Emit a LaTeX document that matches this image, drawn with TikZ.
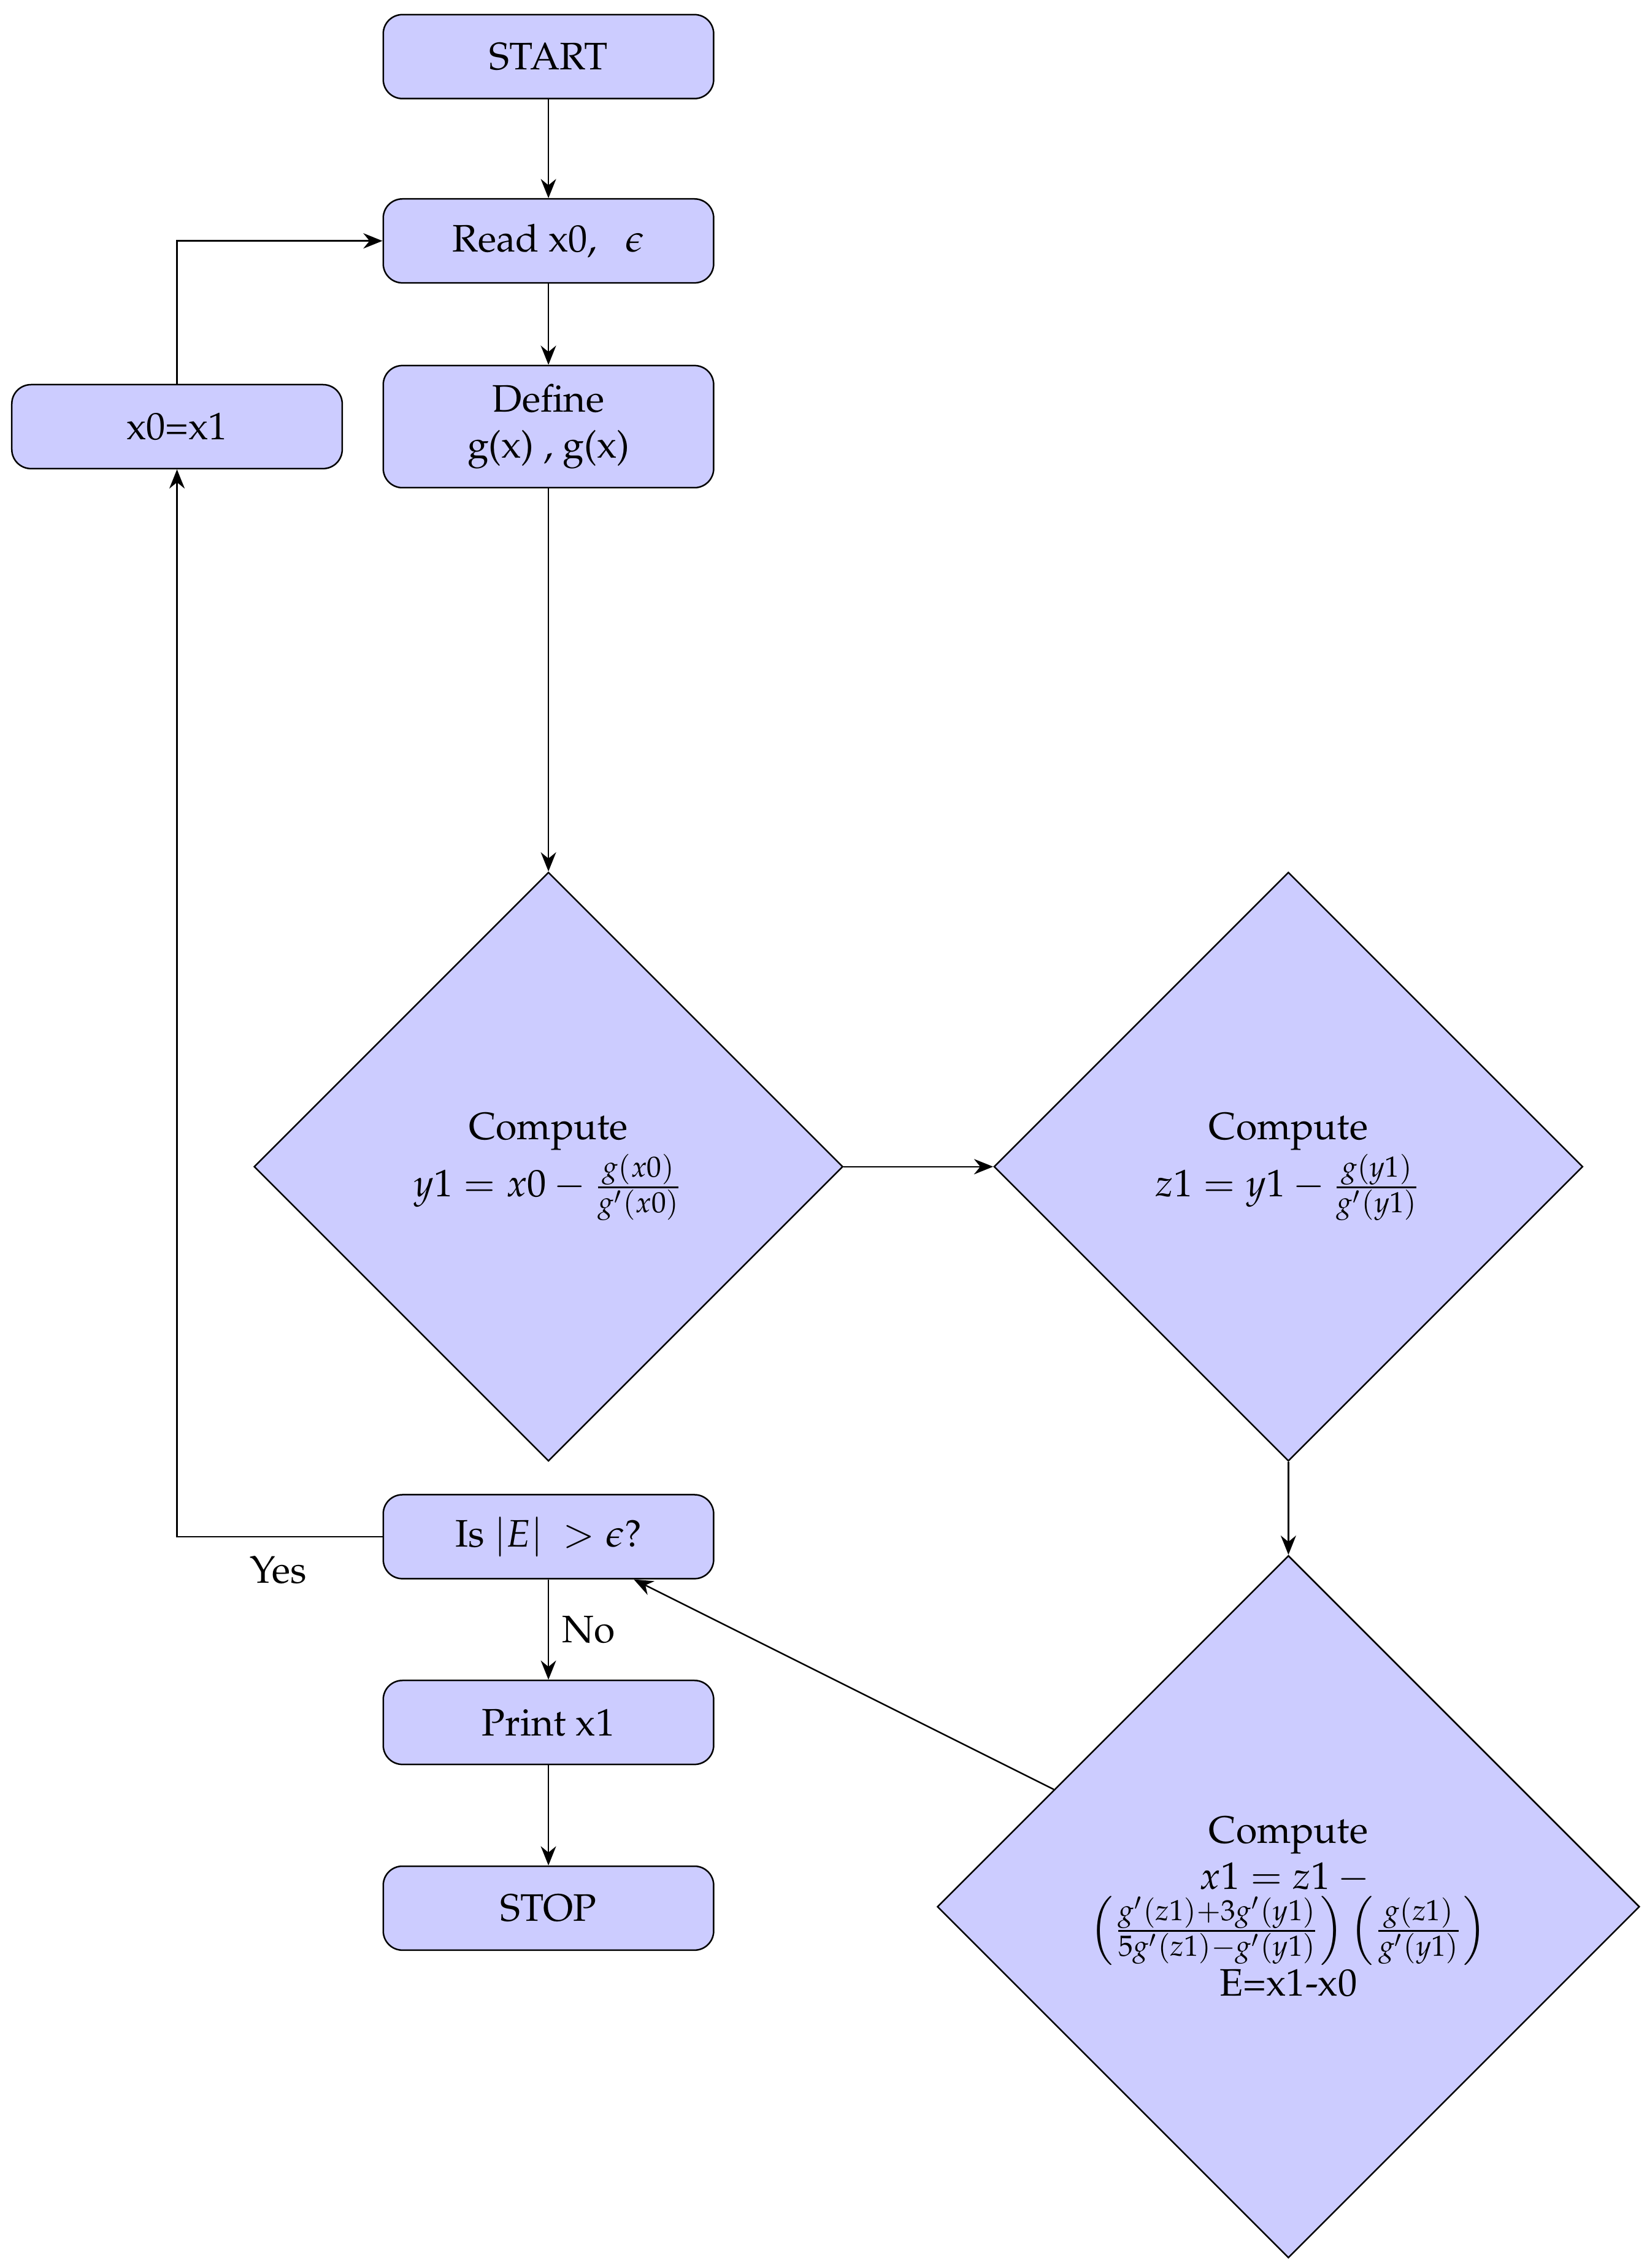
\documentclass[tikz,border=0pt]{standalone}
\usepackage[T1]{fontenc}
\usepackage{mathpazo}
\usetikzlibrary{shapes.geometric,arrows.meta}
\begin{document}
\begin{tikzpicture}[x=0.0133cm,y=-0.0133cm,
  box/.style={draw,fill=blue!20,rounded corners=5pt,minimum width=3.03cm,minimum height=0.77cm,align=center,inner sep=2pt},
  dia/.style={draw,fill=blue!20,diamond,align=center,inner sep=0pt},
  arr/.style={-{Stealth[length=5pt,width=4pt]},thin}]
\useasboundingbox (0,0) rectangle (1135,1563);
\node[box] (start) at (378,39) {START};
\node[box] (read) at (378,166) {Read x0,~~~$\epsilon$};
\node[box,minimum height=1.12cm] (def) at (378,294) {Define\\ g(x) , g’(x)};
\node[box] (upd) at (122,294) {x0=x1};
\node[dia,minimum width=5.40cm,minimum height=5.40cm] (d1) at (378,804) {Compute\\ $y1 = x0 - \frac{g(x0)}{g'(x0)}$};
\node[dia,minimum width=5.40cm,minimum height=5.40cm] (d2) at (888,804) {Compute\\ $z1 = y1 - \frac{g(y1)}{g'(y1)}$};
\node[dia,minimum width=6.44cm,minimum height=6.44cm] (d3) at (888,1314) {Compute\\ $x1 = z1 -{}$\\ $\left(\frac{g'(z1)+3g'(y1)}{5g'(z1)-g'(y1)}\right)\left(\frac{g(z1)}{g'(y1)}\right)$\\ E=x1-x0};
\node[box] (is) at (378,1059) {Is $|E|\ >\epsilon$?};
\node[box] (print) at (378,1187) {Print x1};
\node[box] (stop) at (378,1315) {STOP};
\node (yes) at (192,1082) {Yes};
\coordinate (c1) at (122,1059);
\coordinate (c2) at (122,166);
\draw[arr] (start) -- (read);
\draw[arr] (read) -- (def);
\draw[arr] (def) -- (d1);
\draw[arr] (d1) -- (d2);
\draw[arr] (d2) -- (d3);
\draw[arr] (d3) -- (is);
\draw[arr] (is) -- node[right]{No} (print);
\draw[arr] (print) -- (stop);
\draw[arr] (is.west) -- (c1) -- (upd);
\draw[arr] (upd) -- (c2) -- (read.west);
\end{tikzpicture}
\end{document}
